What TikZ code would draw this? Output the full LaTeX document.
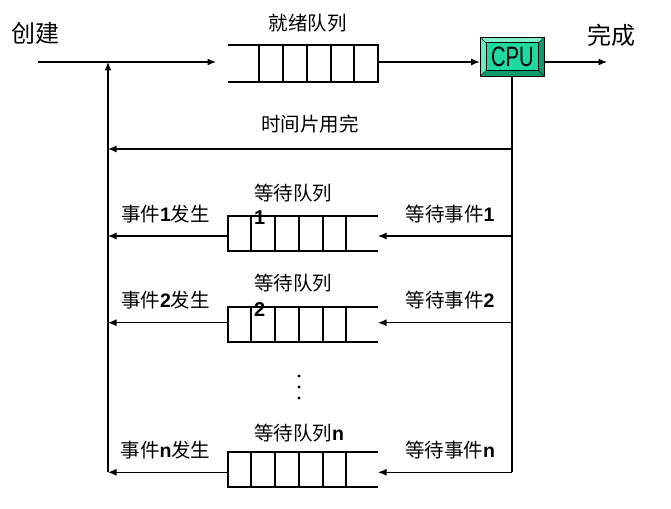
\documentclass[tikz,border=0pt]{standalone}
\usepackage{fontspec}
\newfontfamily\cjk{Noto Sans CJK SC}
\newfontfamily\lat{Liberation Sans}
\usetikzlibrary{arrows.meta}
\definecolor{cpuface}{HTML}{1FD9A0}
\definecolor{cpulight}{HTML}{7CF0C8}
\definecolor{cpudark}{HTML}{0F9A6E}
\tikzset{
  qline/.style={line width=2pt},
  conn/.style={line width=1.2pt},
  arr/.style={conn, -{Latex[length=8.5pt,width=7pt]}},
  lbl/.style={font=\cjk\fontsize{19.5}{24}\selectfont, inner sep=0pt},
  biglbl/.style={font=\cjk\fontsize{24}{28}\selectfont, inner sep=0pt},
  num/.style={font=\lat\bfseries\fontsize{20}{24}\selectfont, inner sep=0pt},
  waitq/.pic={
    \draw[qline] (150,0) -- (0,0) -- (0,35) -- (150,35);
    \foreach \xx in {23,47,71,95,118} \draw[qline] (\xx,0) -- (\xx,35);
    \coordinate (-L) at (0,#1);
    \coordinate (-R) at (150,#1);
  },
  readyq/.pic={
    \draw[qline] (0,0) -- (150,0) -- (150,36.7) -- (0,36.7);
    \foreach \xx in {31,55,79,103,126} \draw[qline] (\xx,0) -- (\xx,36.7);
    \coordinate (-L) at (0,17);
    \coordinate (-R) at (150,17);
  }
}
\begin{document}
\begin{tikzpicture}[x=1pt,y=-1pt]
\useasboundingbox (0,0) rectangle (671,508);

% labels
\node[biglbl] (create) at (35,33) {创建};
\node[biglbl] (done) at (611.5,35) {完成};
\node[lbl] (readylbl) at (307.5,23.5) {就绪队列};
\node[lbl] (tslbl) at (310,124.5) {时间片用完};

% ready queue
\pic (rq) at (228,45) {readyq};

% CPU
\node[draw, line width=0.6pt, fill=cpudark, minimum width=64pt, minimum height=38.7pt, inner sep=0pt] (cpu) at (512,56.7) {};
\fill[cpulight] (480,37.3) -- (544,37.3) -- (538.7,42.7) -- (486,42.7) -- cycle;
\fill[cpulight!80!cpuface] (480,37.3) -- (486,42.7) -- (486,70.7) -- (480,76) -- cycle;
\draw[line width=0.6pt, fill=cpuface] (486,42.7) rectangle (538.7,70.7);
\draw[line width=0.4pt] (480,37.3) -- (486,42.7) (544,37.3) -- (538.7,42.7) (480,76) -- (486,70.7) (544,76) -- (538.7,70.7);
\draw[line width=0.6pt] (480,37.3) rectangle (544,76);
\node[inner sep=0pt, font=\lat\fontsize{28}{28}\selectfont] (cputext) at (512.3,57) {\scalebox{0.72}[1]{CPU}};

% main line
\coordinate (start) at (38,62);
\coordinate (rtip) at (216,62);
\coordinate (join) at (108,62);
\coordinate (fin) at (607,62);
\draw[arr] (start) -- (rtip);
\draw[arr] (rq-R) -- (rq-R -| cpu.west);
\draw[arr] (rq-R -| cpu.east) -- (fin);

% time slice
\coordinate (tsR) at (512,149);
\coordinate (tsL) at (108,149);
\draw[arr] (tsR) -- (tsL);

% waiting queues
\pic (q1) at (228,216) {waitq=20};
\pic (q2) at (228,307.3) {waitq=15.4};
\pic (qn) at (228,452.3) {waitq=20};

\node[lbl, anchor=west] (wq1) at (254,193) {等待队列};
\node[num, anchor=west] (wq1n) at (254,217.5) {1};
\node[lbl, anchor=west] (wq2) at (254,283) {等待队列};
\node[num, anchor=west] (wq2n) at (254,309.5) {2};
\node[lbl, anchor=west] (wqn) at (254,433) {等待队列{\lat\bfseries n}};

\node[lbl] (ev1) at (165.5,214.5) {事件{\lat\bfseries 1}发生};
\node[lbl] (we1) at (450,214.5) {等待事件{\lat\bfseries 1}};
\node[lbl] (ev2) at (165.5,300.5) {事件{\lat\bfseries 2}发生};
\node[lbl] (we2) at (450,300.5) {等待事件{\lat\bfseries 2}};
\node[lbl] (evn) at (165.5,450) {事件{\lat\bfseries n}发生};
\node[lbl] (wen) at (450,450) {等待事件{\lat\bfseries n}};

% dots
\fill (299,376) circle (1.6) (299,387) circle (1.6) (299,398) circle (1.6);

% right vertical and branches
\draw[conn] (cpu.south) -- (cpu.south |- qn-R);
\draw[arr] (cpu.south |- q1-R) -- (q1-R);
\draw[arr] (cpu.south |- q2-R) -- (q2-R);
\draw[arr] (cpu.south |- qn-R) -- (qn-R);

% left branches and vertical
\draw[arr] (q1-L) -- (q1-L -| join);
\draw[arr] (q2-L) -- (q2-L -| join);
\draw[arr] (qn-L) -- (qn-L -| join);
\draw[arr] (qn-L -| join) -- (join);
\end{tikzpicture}
\end{document}
